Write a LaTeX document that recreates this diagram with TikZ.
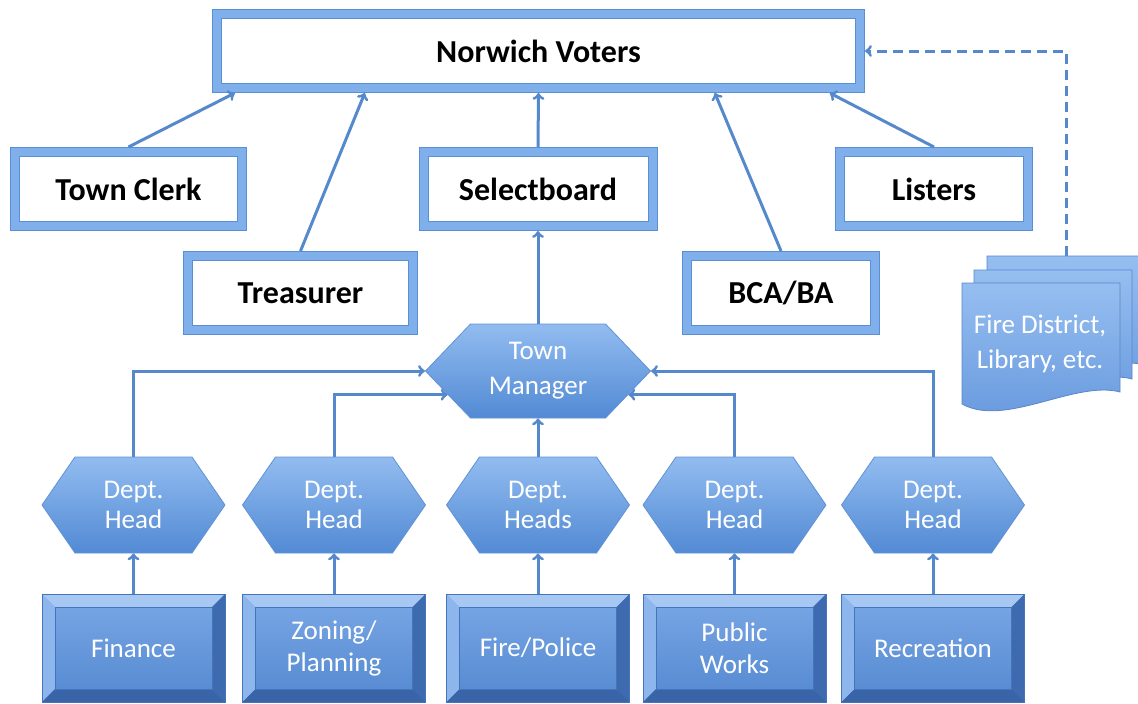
\documentclass[tikz,border=0pt]{standalone}
\usepackage{fontspec}
\setmainfont{Carlito}
\usepackage{tikz}
\usetikzlibrary{positioning}
\usetikzlibrary{calc}
\usetikzlibrary{shapes}

\definecolor{edgedark}{RGB}{92,142,212}
\definecolor{edgelight}{RGB}{128,176,236}
\definecolor{conn}{RGB}{86,136,204}
\definecolor{hextop}{RGB}{146,188,240}
\definecolor{hexbot}{RGB}{82,138,212}
\definecolor{hexedge}{RGB}{96,146,214}
\definecolor{facetop}{RGB}{122,168,230}
\definecolor{facebot}{RGB}{84,136,208}
\definecolor{bevtop}{RGB}{166,200,242}
\definecolor{bevleft}{RGB}{140,182,236}
\definecolor{bevright}{RGB}{62,106,176}
\definecolor{bevbot}{RGB}{58,100,168}
\definecolor{bevedge}{RGB}{70,116,186}
\definecolor{doctop}{RGB}{150,190,240}
\definecolor{docbot}{RGB}{102,152,222}
\definecolor{docedge}{RGB}{88,134,202}

\begin{document}
\begin{tikzpicture}[x=1pt, y=-1pt,
	office/.style={rectangle, fill=white, draw=edgedark, double=edgelight, double distance=8pt, line width=1pt, outer sep=5pt, inner sep=0pt, minimum height=74pt, align=center, font=\fontsize{32}{38}\selectfont\bfseries},
	head/.style={signal, signal to=east and west, signal pointer angle=111, minimum width=183pt, minimum height=96pt, inner sep=0pt, top color=hextop, bottom color=hexbot, draw=hexedge, line width=0.8pt, text=white, align=center, font=\fontsize{27}{30}\selectfont},
	dept/.style={rectangle, minimum width=183pt, minimum height=108pt, inner sep=0pt, top color=facetop, bottom color=facebot, draw=bevedge, line width=0.8pt, text=white, align=center, font=\fontsize{27}{32}\selectfont,
		path picture={
			\coordinate (bnw) at (path picture bounding box.north west);
			\coordinate (bne) at (path picture bounding box.north east);
			\coordinate (bsw) at (path picture bounding box.south west);
			\coordinate (bse) at (path picture bounding box.south east);
			\fill[bevtop] (bnw) -- (bne) -- ([shift={(-13pt,-13pt)}]bne) -- ([shift={(13pt,-13pt)}]bnw) -- cycle;
			\fill[bevleft] (bnw) -- (bsw) -- ([shift={(13pt,13pt)}]bsw) -- ([shift={(13pt,-13pt)}]bnw) -- cycle;
			\fill[bevright] (bne) -- (bse) -- ([shift={(-13pt,13pt)}]bse) -- ([shift={(-13pt,-13pt)}]bne) -- cycle;
			\fill[bevbot] (bsw) -- (bse) -- ([shift={(-13pt,13pt)}]bse) -- ([shift={(13pt,13pt)}]bsw) -- cycle;
			\draw[bevedge, line width=0.6pt] ([shift={(13pt,-13pt)}]bnw) rectangle ([shift={(-13pt,13pt)}]bse);
		}},
	docpart/.style={top color=doctop, bottom color=docbot, draw=docedge, line width=0.8pt},
	link/.style={->, line width=3pt, draw=conn}
]
	\useasboundingbox (0,0) rectangle (1138,704);

	% elected offices
	\node[office, minimum width=643pt](voters)    at (538.5,51) {Norwich Voters};
	\node[office, minimum width=227pt](clerk)     at (128.5,189){Town Clerk};
	\node[office, minimum width=229pt](select)    at (538,189)  {Selectboard};
	\node[office, minimum width=188pt](listers)   at (934,189)  {Listers};
	\node[office, minimum width=225pt](treasurer) at (300.5,293){Treasurer};
	\node[office, minimum width=188pt](bca)       at (781,293)  {BCA/BA};

	% manager and department heads
	\node[head, signal pointer angle=92.5, minimum width=225pt, minimum height=94pt, font=\fontsize{27}{35}\selectfont](manager) at (538,371){Town\\Manager};
	\node[head](headone)   at (133.5,505){Dept.\\Head};
	\node[head](headtwo)   at (334,505)  {Dept.\\Head};
	\node[head](headthree) at (538,505)  {Dept.\\Heads};
	\node[head](headfour)  at (734.5,505){Dept.\\Head};
	\node[head](headfive)  at (933,505)  {Dept.\\Head};

	% departments
	\node[dept](finance)    at (133.5,648){Finance};
	\node[dept](zoning)     at (334,648)  {Zoning/\\Planning};
	\node[dept](fire)       at (538,648)  {Fire/Police};
	\node[dept](works)      at (734.5,648){Public\\Works};
	\node[dept](recreation) at (933,648)  {Recreation};

	% other districts, stacked documents
	\foreach \dx/\dy in {25/-27, 12/-13, 0/0}
		\draw[docpart, shift={(\dx,\dy)}] (962,283) -- (1120,283) -- (1120,392) .. controls (1075,380) and (1005,428) .. (962,404) -- cycle;
	\node[text=white, align=center, font=\fontsize{27}{35}\selectfont](district) at (1040,344){Fire District,\\Library, etc.};
	\coordinate (stacktop) at (1066,256);

	\draw[link] (clerk.north) -- ($(voters.south west)!0.035!(voters.south east)$);
	\draw[link] (treasurer.north) -- ($(voters.south west)!0.234!(voters.south east)$);
	\draw[link] (select.north) -- (voters.south);
	\draw[link] (bca.north) -- ($(voters.south west)!0.77!(voters.south east)$);
	\draw[link] (listers.north) -- ($(voters.south west)!0.946!(voters.south east)$);
	\draw[link, dash pattern=on 10pt off 6pt] (stacktop) |- (voters.east);

	\draw[link] (manager.north) -- (select.south);
	\draw[link] (headone.north) |- (manager.west);
	\draw[link] (headtwo.north) |- ($(manager.west)!0.5!(manager.south west)$);
	\draw[link] (headthree.north) -- (manager.south);
	\draw[link] (headfour.north) |- ($(manager.east)!0.5!(manager.south east)$);
	\draw[link] (headfive.north) |- (manager.east);

	\draw[link] (finance.north) -- (headone.south);
	\draw[link] (zoning.north) -- (headtwo.south);
	\draw[link] (fire.north) -- (headthree.south);
	\draw[link] (works.north) -- (headfour.south);
	\draw[link] (recreation.north) -- (headfive.south);
\end{tikzpicture}
\end{document}
